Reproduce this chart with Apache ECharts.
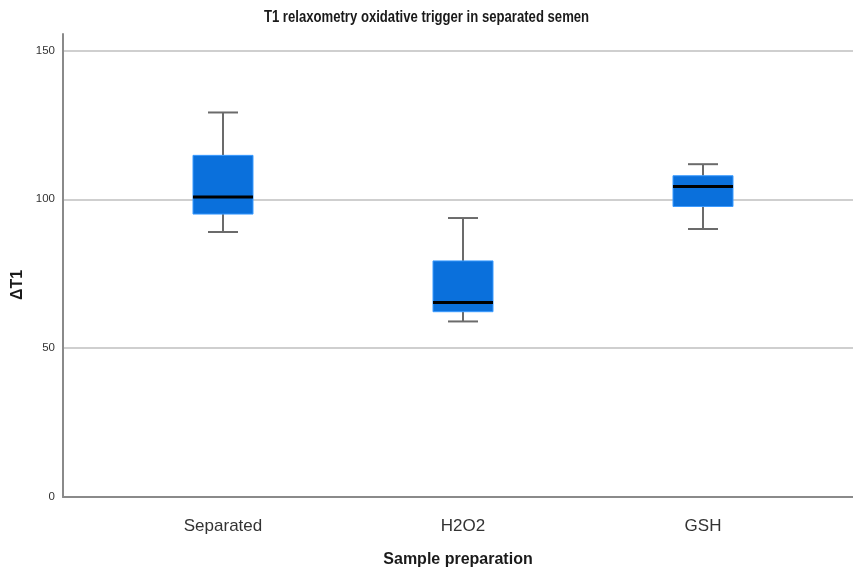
<!DOCTYPE html>
<html>
<head>
<meta charset="utf-8">
<script src="https://cdn.jsdelivr.net/npm/echarts@6/dist/echarts.min.js"></script>
<style>html,body{margin:0;padding:0;background:#fff;}#main{width:853px;height:573px;}</style>
</head>
<body>
<div id="main"></div>
<script>
var categories = ['Separated', 'H2O2', 'GSH'];
var whiskerLow = [90.4, 61.0, 91.4];
var q1 = [96.3, 64.2, 98.8];
var median = [101.9, 67.2, 105.4];
var q3 = [115.6, 80.9, 108.9];
var whiskerHigh = [129.7, 95.0, 112.7];
var yTicks = [0, 50, 100, 150];

var FONT = '"Liberation Sans", Arial, sans-serif';
var data = categories.map(function (c, i) {
  return [i, whiskerLow[i], q1[i], median[i], q3[i], whiskerHigh[i]];
});

var chart = echarts.init(document.getElementById('main'));
chart.setOption({
  animation: false,
  backgroundColor: '#fff',
  graphic: [
    { type: 'text', x: 426.5, y: 18, scaleX: 0.82,
      style: { text: 'T1 relaxometry oxidative trigger in separated semen', align: 'center', verticalAlign: 'middle',
        font: 'bold 16px ' + FONT, fill: '#1a1a1a' } },
    { type: 'text', x: 18, y: 285, rotation: Math.PI / 2,
      style: { text: 'ΔT1', align: 'center', verticalAlign: 'middle',
        font: 'bold 16px ' + FONT, fill: '#1a1a1a' } }
  ],
  grid: [
    { left: 63, right: 0, top: 34, bottom: 66 },
    { left: 103, right: 30, top: 34, bottom: 66 }
  ],
  xAxis: [
    { gridIndex: 0, type: 'value', min: 0, max: 1,
      axisLine: { show: true, lineStyle: { color: '#8a8a8a', width: 2 } },
      axisTick: { show: false }, axisLabel: { show: false }, splitLine: { show: false },
      name: 'Sample preparation', nameLocation: 'middle', nameGap: 55,
      nameTextStyle: { fontFamily: FONT, fontSize: 16, fontWeight: 'bold', color: '#1a1a1a' }
    },
    { gridIndex: 1, type: 'category', data: categories,
      axisLine: { show: false }, axisTick: { show: false },
      axisLabel: { margin: 11, fontFamily: FONT, fontSize: 17, color: '#333' }
    }
  ],
  yAxis: [
    { gridIndex: 0, type: 'value', min: 0, max: 155.5, interval: 50,
      axisLine: { show: true, lineStyle: { color: '#8a8a8a', width: 2 } },
      axisTick: { show: false },
      axisLabel: { showMaxLabel: false, margin: 8, fontFamily: FONT, fontSize: 11.5, color: '#333',
        formatter: function (v) { return yTicks.indexOf(v) >= 0 ? String(v) : ''; } },
      splitLine: { show: true, showMaxLine: false, lineStyle: { color: '#cfcfcf', width: 2 } }
    },
    { gridIndex: 1, type: 'value', min: 0, max: 155.5, interval: 50, show: false, splitLine: { show: false } }
  ],
  series: [{
    type: 'custom',
    xAxisIndex: 1, yAxisIndex: 1,
    data: data,
    renderItem: function (params, api) {
      var x = api.value(0);
      var pLow = api.coord([x, api.value(1)]);
      var pQ1 = api.coord([x, api.value(2)]);
      var pMed = api.coord([x, api.value(3)]);
      var pQ3 = api.coord([x, api.value(4)]);
      var pHigh = api.coord([x, api.value(5)]);
      var band = api.size([1, 0])[0];
      var bw = band * 0.25, cw = band * 0.125;
      var cx = pMed[0];
      var wStyle = { stroke: '#6b6b6b', lineWidth: 2 };
      return {
        type: 'group',
        children: [
          { type: 'line', shape: { x1: cx, y1: pQ3[1], x2: cx, y2: pHigh[1] }, style: wStyle },
          { type: 'line', shape: { x1: cx, y1: pQ1[1], x2: cx, y2: pLow[1] }, style: wStyle },
          { type: 'line', shape: { x1: cx - cw / 2, y1: pHigh[1], x2: cx + cw / 2, y2: pHigh[1] }, style: wStyle },
          { type: 'line', shape: { x1: cx - cw / 2, y1: pLow[1], x2: cx + cw / 2, y2: pLow[1] }, style: wStyle },
          { type: 'rect', shape: { x: cx - bw / 2, y: pQ3[1], width: bw, height: pQ1[1] - pQ3[1] },
            style: { fill: '#0a70dc', stroke: '#3b9bff', lineWidth: 1 } },
          { type: 'line', shape: { x1: cx - bw / 2, y1: pMed[1], x2: cx + bw / 2, y2: pMed[1] },
            style: { stroke: '#000', lineWidth: 3 } }
        ]
      };
    }
  }]
});
</script>
</body>
</html>
